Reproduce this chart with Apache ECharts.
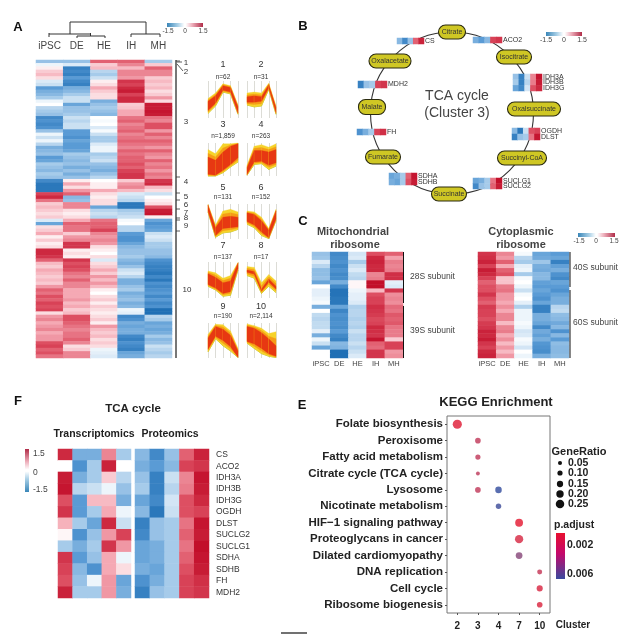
<!DOCTYPE html>
<html><head><meta charset="utf-8">
<style>html,body{margin:0;padding:0;background:#fff}#c{width:638px;height:634px;filter:blur(.35px)}</style>
<script src="https://cdn.jsdelivr.net/npm/echarts@6/dist/echarts.min.js"></script>
</head><body><div id="c"></div>
<script>
const stages=['iPSC','DE','HE','IH','MH'];
// Panel A: global heatmap columns, top to bottom
const aIPSC=[-.6,-.1,.1,.3,.4,.2,-.2,-.3,-1,-.8,-.7,-.5,-.1,0,-.4,-.5,-.6,-1.2,-1.1,-1.2,-1.1,-.6,-.1,-.3,-.1,-.4,-.8,-.7,-.6,-1,
 -.9,-.5,-.6,-.7,-.5,-.6,-1.2,-1.4,-1.4,-1.4,1.1,1.3,.8,.3,.4,.3,.2,.3,-.2,-.9,.2,.3,.5,.1,.3,.1,.2,1.3,1.3,1.2,
 .9,.4,.3,.5,.4,.3,.4,.3,.6,.9,.8,1,.9,1.1,1,1.1,.2,.6,.7,.5,.6,.7,.5,.6,.6,1,1.1,.9,1,.8];
const aDE=[-.6,-.2,-1.3,-1.2,-1.3,-1,-1.2,-1.3,-.8,-.7,-.5,-.3,-.3,-.9,-.6,-.6,-.5,-.3,-.4,-.3,-.3,-1,-1,-1.1,-.9,-1,-1,-.9,-.5,-.6,
 -.7,-.6,-.8,-.6,-.8,-.6,.1,.5,.2,.6,.9,-.7,-.6,.7,.7,.2,.1,.2,.5,.9,.8,.8,.3,.6,.7,1.2,1.2,.1,.2,.1,
 1.2,1,1.1,1,.8,.7,.9,.7,.7,.5,.5,.5,.6,.4,.5,.3,.4,1,1,.9,.8,.7,.8,.8,.9,.7,.2,.3,.7,.7];
const aHE=[.9,.3,.4,-.4,-.5,-.3,.1,.2,.5,.3,.2,.2,-.8,-.6,-.5,-.6,-.7,0,-.05,0,-.2,-.05,-.3,-.5,-.5,-.2,-.1,-.1,-.5,-.4,
 -.3,-.6,-.7,-.8,-.6,-.4,0,.1,.1,.5,.2,.1,.2,.2,-.9,-.4,-.3,-.4,.8,.9,.9,1.1,.7,.6,.7,.6,.2,.1,0,.2,
 -.2,.2,.3,.5,.3,.6,.4,.6,.4,.1,0,.2,.3,.1,.3,.2,.1,.2,.3,.1,.6,.4,.3,.4,.2,.3,.2,-.1,-.15,-.2];
const aIH=[.9,.7,.4,.7,.7,.6,1.2,1.1,1.3,1.4,1.1,1.3,1.3,.3,.35,.5,.5,.8,.9,.7,.8,.9,.7,.8,.9,.8,.7,.9,.8,.9,
 .9,1,.9,1.1,1.2,1.2,.3,.6,.7,.4,-.2,-.3,-.4,-1.4,-1.4,-.5,-.4,-.3,-.05,0,-.4,-.4,-1,-1.1,-1.1,-.9,-.7,-.6,-.6,-.5,
 -.7,-.8,-.6,-.3,-.2,-.4,-.8,-.8,-.6,-.5,-.8,-.7,-.6,-.8,-.7,-.1,-.15,-1.2,-1.1,-.8,-.9,-.8,-.8,-1.2,-1.3,-1.1,-1.2,-1.3,-.9,-.8];
const aMH=[-.5,.3,.9,.7,.7,.3,.4,.3,.4,.2,.3,.6,.2,1.4,1.4,1.45,1.4,.8,.7,1,1,.6,.9,.7,.9,.8,.6,.9,.7,.6,
 .9,.7,.8,.6,.8,.7,1.2,1.3,.4,.2,-.3,0,.1,.2,1,1.4,1.45,.1,-.9,-1.1,-1,-.9,-.3,-.2,-.3,-.5,-.5,-.6,-.6,-.7,
 -1.1,-1.2,-1.3,-1.3,-1.4,-1.2,-1.4,-1.1,-1.2,-1.1,-1,-1.2,-1,-1.2,-1.1,-1.5,-1.5,-.4,-.5,-.9,-.8,-.9,-.8,-.5,-.7,-.6,-.3,-.4,-.5,-.4];
// Panel A: cluster profiles — outer low, inner low, inner high, outer high
const clusterNames=['1','2','3','4','5','6','7','8','9','10'];
const clusterCounts=['n=62','n=31','n=1,859','n=263','n=131','n=152','n=137','n=17','n=190','n=2,114'];
const outerLow=[[-1.5,-.7,.8,.6,-1.6],[-.6,-.8,-.7,1.1,-1.6],[-2,-2,-1.6,-.9,-.3],[-1.9,-.6,-.5,-1.2,-.8],[1.1,-1.8,-1.3,-1.2,-.9],[-.3,-.7,-1.6,-1.95,.1],[-.7,-1.1,-1.8,-1.7,1.1],[.5,.2,-1.5,-.7,-1.4],[-1.3,.2,-.6,-1.2,-1.95],[-.3,-.9,-1.5,-1.8,-1.95]];
const innerLow=[[-1.2,-.4,1,.8,-1.45],[-.3,-.3,-.2,1.25,-1.4],[-1.8,-1.9,-1.3,-.6,.2],[-1.8,-.3,-.2,-.7,-.4],[1.2,-1.6,-.8,-.7,-.6],[0,-.4,-1.2,-1.85,.3],[-.5,-.9,-1.5,-1.3,1.3],[.85,.65,-1.25,-.25,-1],[-1,.5,0,-.7,-1.9],[-.1,-.4,-.9,-1.5,-1.8]];
const innerHigh=[[-.2,.4,1.5,1.3,-.8],[.3,.4,.3,1.6,-.9],[.3,-.1,.9,1.6,1.9],[-1,1.1,1.1,.9,1.2],[1.85,-.7,.5,.6,.5],[1,.8,.1,-1,1.2],[.7,.3,-.3,-.1,1.85],[1.1,.95,-1,.1,-.7],[.3,1.6,1.3,.6,-1.2],[1.6,1.4,.9,.2,-.6]];
const outerHigh=[[.1,.7,1.7,1.5,-.6],[.7,.8,.7,1.75,-.7],[1.2,.7,1.9,1.9,2],[-.7,1.6,1.8,1.5,1.9],[1.95,-.4,1.2,1.4,1.1],[1.2,1.1,.5,-.8,1.4],[1,.8,.2,.5,1.95],[1.5,1.4,-.3,.6,-.1],[.7,1.85,1.8,1.1,-.9],[1.9,1.7,1.4,.8,1]];
// Panel C
const mitoIPSC=[-.6,-.55,-.2,-.4,-.65,-.65,-.6,-.9,0,-.15,-.15,-.1,-.05,-.8,0,-.35,-.4,-.35,-.35,-.15,-.8,-.1,-.3,-.9,0,0];
const mitoDE=[-1.2,-1.15,-1.1,-1.2,-1.1,-1.2,-1.15,-.8,-1.2,-1.45,-1.45,-1.4,-1.4,-.9,-1.25,-1.1,-1.15,-1.1,-1.15,-1,-1.2,-1.3,-.7,-.75,-1.5,-1.5];
const mitoHE=[-.25,-.2,-.5,-.3,-.2,-.35,-.4,.05,.05,-.1,-.15,-.15,-.2,-.45,-.4,-.4,-.45,-.4,-.45,-.3,-.4,-.4,-.3,-.4,-.3,-.2];
const mitoIH=[1,1.3,1.35,1.3,1.3,.7,.75,1.5,1.5,.4,1,1.1,1.1,1.25,1.2,1.15,1.05,1.1,1.3,1.25,1.2,1.45,.9,.85,1.2,1.2];
const mitoMH=[.9,.55,.75,.7,.75,1.25,1.25,-.15,-.2,1.2,.65,.7,.65,.85,.8,.95,.9,.95,.8,.75,.75,.3,1.1,1.1,.6,.65];
const cytoIPSC=[1.2,1.25,1.35,1.1,1.4,1.3,1.1,.9,1,1,1.2,1,.9,1.15,1.1,1.1,1,1.15,1.2,1.35,1.3,1.4,1.2,1.1,1.3,1.35];
const cytoDE=[.7,.6,.9,.5,.9,1,.35,.35,.75,.8,.6,.6,.5,.65,.5,.7,.7,.4,.7,.75,.5,.65,.4,.6,.4,.6];
const cytoHE=[-.05,-.4,-.5,-.15,-.1,-.5,-.05,0,-.1,-.3,-.05,0,-.15,-.45,-.1,-.1,-.1,-.05,-.1,-.25,-.2,-.05,-.1,-.25,0,-.1];
const cytoIH=[-.9,-.85,-.55,-.8,-.85,-.7,-.7,-.95,-1,-.9,-1,-1.1,-.9,-1.3,-1.3,-.8,-.8,-.9,-1.2,-.85,-.95,-.8,-1.05,-1.1,-1.15,-.8];
const cytoMH=[-1,-.9,-1.3,-.95,-.8,-1.1,-1.2,-.9,-1,-1.1,-.9,-.8,-.8,-.4,-.35,-.65,-.7,-.85,-.7,-1.1,-.7,-1,-.65,-.7,-.7,-.65];
// Panel F
const genes=['CS','ACO2','IDH3A','IDH3B','IDH3G','OGDH','DLST','SUCLG2','SUCLG1','SDHA','SDHB','FH','MDH2'];
const transcriptomics=[[1.3,-.8,-.8,.7,-.5],[0,-1.1,-.5,1.35,0],[1.4,-.8,-.5,.3,-.4],[1.45,-.4,-.3,-.1,-.6],[1,-1,.4,.4,-.8],[1.2,-1,-.5,.5,-.1],[.45,-.5,-.9,1.3,-.3],[.05,-1.1,-.6,.6,1.1],[-.5,-.8,-.5,1.2,.6],[1.2,-1,-.6,.5,-.1],[1.1,-.7,-1.1,.5,.2],[1,-.6,-.1,.6,-.9],[1.35,-.5,-.5,.6,-.8]];
const proteomics=[[-.7,-1.2,-.6,.9,1.35],[-.8,-1,-.7,1.1,1.2],[-.6,-1.3,-.3,.7,1.45],[-.5,-1.3,-.4,.75,1.4],[-.9,-1.2,-.25,1,1.3],[-.7,-1.4,-.3,1,1.1],[-1.3,-.6,-.5,.8,1.45],[-1.2,-.6,-.5,.9,1.4],[-.9,-.8,-.5,.8,1.5],[-.9,-.8,-.5,.9,1.45],[-.8,-.9,-.5,1,1.4],[-1.1,-.8,-.5,1.1,1.25],[-1.3,-.6,-.5,1.1,1.2]];
// Panel E
const pathways=['Folate biosynthesis','Peroxisome','Fatty acid metabolism','Citrate cycle (TCA cycle)','Lysosome','Nicotinate metabolism','HIF−1 signaling pathway','Proteoglycans in cancer','Dilated cardiomyopathy','DNA replication','Cell cycle','Ribosome biogenesis'];
const enrichClusters=['2','3','4','7','10'];
const dotPathway=[0,1,2,3,4,4,5,6,7,8,9,10,11];
const dotCluster=[0,1,1,1,1,2,2,3,3,3,4,4,4];
const dotRatio=[.28,.12,.1,.04,.12,.16,.11,.22,.24,.17,.09,.14,.12];
const dotPadj=[.0009,.003,.003,.0032,.003,.0065,.0063,.0006,.0016,.005,.0028,.0015,.0014];
const ratioTicks=[.05,.1,.15,.2,.25];

const FONT='"Liberation Sans",Arial,sans-serif';
const heatColors=['#1f6fb5','#5a9bd5','#a6cbea','#ffffff','#f5a9b4','#dd4f62','#c20f2a'];
const legendStops=[[0,'#3a86b8'],[.3,'#a8cfe6'],[.48,'#ffffff'],[.52,'#ffffff'],[.7,'#eeb0bc'],[1,'#b02c48']];
const grids=[],xAxes=[],yAxes=[],series=[],heatIdx=[],G=[];
function heat(box,rows,labels,opt){
  opt=opt||{};
  const g=grids.length;grids.push(Object.assign({},box));
  const xa={type:'category',gridIndex:g,data:stages,show:!!opt.x,position:opt.xTop?'top':'bottom',
    axisLine:{show:false},axisTick:{show:false},axisLabel:{fontFamily:FONT,fontSize:opt.xSize||7.5,color:'#444',margin:opt.xMargin||3,interval:0}};
  xAxes.push(xa);
  const ya={type:'category',gridIndex:g,inverse:true,data:labels||rows.map((_,i)=>'r'+i),show:!!labels,position:'right',
    axisLine:{show:false},axisTick:{show:false},axisLabel:{fontFamily:FONT,fontSize:opt.ySize||7,color:opt.yColor||'#333',margin:opt.yMargin||2,interval:0}};
  yAxes.push(ya);
  const data=[];
  rows.forEach((r,y)=>r.forEach((v,x)=>data.push([x,y,v])));
  heatIdx.push(series.length);
  series.push({type:'heatmap',xAxisIndex:g,yAxisIndex:g,data,z:3,progressive:0,silent:true});
}
const byCol=(...cols)=>cols[0].map((_,i)=>cols.map(c=>c[i]));
const gene=g=>proteomics[genes.indexOf(g)];

// A heatmap
heat({left:36,top:60,width:136,height:298},byCol(aIPSC,aDE,aHE,aIH,aMH),null,{x:true,xTop:true,xSize:10,xMargin:9});
// A mini profiles
const miniCols=[[208,30],[247,29]],miniRows=[[81,37],[143,33],[204,35],[262,36],[323,35]];
clusterNames.forEach((n,k)=>{
  const c=miniCols[k%2],r=miniRows[Math.floor(k/2)];
  const g=grids.length;grids.push({left:c[0],width:c[1],top:r[0],height:r[1]});
  xAxes.push({type:'value',gridIndex:g,min:0,max:4,interval:1,axisLine:{show:false},axisTick:{show:false},axisLabel:{show:false},splitLine:{show:true,lineStyle:{color:'#dcdcd6',width:1}}});
  yAxes.push({type:'value',gridIndex:g,min:-2,max:2,show:false,splitLine:{show:false}});
  const data=[0,1,2,3].map(i=>[i,outerLow[k][i],innerLow[k][i],innerHigh[k][i],outerHigh[k][i],outerLow[k][i+1],innerLow[k][i+1],innerHigh[k][i+1],outerHigh[k][i+1]]);
  series.push({type:'custom',xAxisIndex:g,yAxisIndex:g,silent:true,clip:false,data,encode:{x:0,y:1},z:3,renderItem(p,api){
    const i=api.value(0);
    const P=(xv,yv)=>api.coord([xv,yv]);
    const poly=(l0,h0,l1,h1,fill)=>({type:'polygon',shape:{points:[P(i,l0),P(i+1,l1),P(i+1,h1),P(i,h0)]},style:{fill,stroke:fill,lineWidth:.3}});
    const [ol0,il0,ih0,oh0,ol1,il1,ih1,oh1]=[1,2,3,4,5,6,7,8].map(d=>api.value(d));
    return {type:'group',children:[
      {type:'line',shape:{x1:P(i,ol0)[0],y1:P(i,ol0)[1],x2:P(i+1,ol1)[0],y2:P(i+1,ol1)[1]},style:{stroke:'#a5b92a',lineWidth:.8}},
      poly(ol0,oh0,ol1,oh1,'#f6d32a'),
      poly((ol0+il0)/2,(oh0+ih0)/2,(ol1+il1)/2,(oh1+ih1)/2,'#f59c16'),
      poly(il0,ih0,il1,ih1,'#e73812')
    ]};
  }});
});
// B gene blocks
const bBlocks=[
 [['CS'],397,38,27,6],[['ACO2'],473,37,29,6],[['IDH3A','IDH3B','IDH3G'],513,74,29,17],
 [['OGDH','DLST'],512,128,28,12],[['SUCLG1','SUCLG2'],473,178,29,11],[['SDHA','SDHB'],389,173,28,12],
 [['FH'],357,129,29,6],[['MDH2'],358,81,29,7]];
bBlocks.forEach(b=>heat({left:b[1],top:b[2],width:b[3],height:b[4]},b[0].map(gene),b[0],{ySize:7,yColor:'#333',yMargin:1}));
// C
heat({left:312,top:252,width:91,height:106},byCol(mitoIPSC,mitoDE,mitoHE,mitoIH,mitoMH),null,{x:true,xSize:7.5,xMargin:2});
heat({left:478,top:252,width:91,height:106},byCol(cytoIPSC,cytoDE,cytoHE,cytoIH,cytoMH),null,{x:true,xSize:7.5,xMargin:2});
// F
heat({left:58,top:449,width:73,height:149},transcriptomics,null);
heat({left:135,top:449,width:74,height:149},proteomics,genes,{ySize:8.5,yColor:'#333',yMargin:7});
// E
const gE=grids.length;
grids.push({left:447,top:416,width:103,height:197,show:true,borderColor:'#777',borderWidth:1,backgroundColor:'#fff'});
xAxes.push({type:'category',gridIndex:gE,data:enrichClusters,axisLine:{show:false},axisTick:{show:true,alignWithLabel:true,length:2,lineStyle:{color:'#555'}},
  axisLabel:{fontFamily:FONT,fontWeight:'bold',fontSize:10,color:'#222',margin:8,interval:0},splitLine:{show:false}});
yAxes.push({type:'category',gridIndex:gE,inverse:true,data:pathways,axisLine:{show:false},axisTick:{show:true,alignWithLabel:true,length:2,lineStyle:{color:'#555'}},
  axisLabel:{fontFamily:FONT,fontWeight:'bold',fontSize:11.5,color:'#222',margin:4,interval:0},splitLine:{show:false}});
const scatterIdx=series.length;
const sz=r=>3+r*22;
series.push({type:'scatter',xAxisIndex:gE,yAxisIndex:gE,silent:true,z:4,
  data:dotPathway.map((p,i)=>[dotCluster[i],p,dotPadj[i],dotRatio[i]]),
  encode:{x:0,y:1},symbolSize:v=>sz(v[3])});

// Decorations
const txt=(x,y,s,size,o)=>G.push({type:'text',x,y,z:20,silent:true,style:Object.assign({text:s,fontFamily:FONT,fontSize:size,fill:'#444',align:'center',verticalAlign:'middle'},o||{})});
const seg=(x1,y1,x2,y2,stroke,w,z)=>G.push({type:'line',z:z||20,silent:true,shape:{x1,y1,x2,y2},style:{stroke:stroke||'#333',lineWidth:w||1}});
const bold=c=>({fontWeight:'bold',fill:c||'#111'});
[['A',18,27],['B',303,26],['C',303,221],['F',18,401],['E',302,405]].forEach(p=>txt(p[1],p[2],p[0],13,bold('#111')));
// dendrogram
[[70,22,146,22],[70,22,70,34],[146,22,146,34],[49,34,91,34],[49,33,49,37],[90.5,33,90.5,36],[77,36,105,36],[77,36,77,38],[105,36,105,38],[131,34,160,34],[131,34,131,37],[160,34,160,37]]
 .forEach(s=>seg(s[0],s[1],s[2],s[3],'#333',1));
// legends
function gradBar(x,y,w,h,stops,vertical){G.push({type:'rect',z:20,silent:true,shape:{x,y,width:w,height:h},style:{fill:new echarts.graphic.LinearGradient(0,vertical?1:0,vertical?0:1,0,stops.map(s=>({offset:s[0],color:s[1]})))}});}
gradBar(167,23,36,4,legendStops);[['-1.5',168],['0',185],['1.5',203]].forEach(l=>txt(l[1],31,l[0],6.5,{fill:'#444'}));
gradBar(546,32,36,4,legendStops);[['-1.5',546],['0',564],['1.5',582]].forEach(l=>txt(l[1],40,l[0],7,{fill:'#444'}));
gradBar(578,233,37,4,legendStops);[['-1.5',579],['0',596],['1.5',614]].forEach(l=>txt(l[1],241,l[0],6.5,{fill:'#444'}));
gradBar(25,449,4,43,legendStops,true);[['1.5',454],['0',473],['-1.5',490]].forEach(l=>txt(33,l[1],l[0],8.5,{align:'left',fill:'#444'}));
// A bracket
seg(176,60,176,358,'#555',1.6);
[61,177,193,200,209,218,220,231].forEach(y=>seg(176,y,180,y,'#333',.8));
seg(177,62,182,62,'#333',.8);seg(177,64,183,71,'#333',.8);
[['1',186,63],['2',186,72],['3',186,122],['4',186,182],['5',186,197],['6',186,205],['7',186,213],['8',186,218],['9',186,226],['10',187,290]].forEach(l=>txt(l[1],l[2],l[0],8,{fill:'#333'}));
clusterNames.forEach((n,k)=>{
  const xs=[223,261],ys=[[65,77],[125,136],[188,197],[246,257],[307,316]];
  const r=ys[Math.floor(k/2)];
  txt(xs[k%2],r[0],n,9,{fill:'#333'});txt(xs[k%2],r[1],clusterCounts[k],6.5,{fill:'#333'});
});
// B pathway
G.push({type:'ellipse',z:1,silent:true,shape:{cx:452,cy:113,rx:81.5,ry:81},style:{fill:'none',stroke:'#333',lineWidth:1.1}});
[['Citrate',452,32,27,14],['Isocitrate',514,57,35,14],['Oxalacetate',390,61,42,14],['Oxalsuccinate',534,109,53,14],['Malate',372,107,27,15],['Fumarate',383,157,35,14],['Succinyl-CoA',522,158,49,14],['Succinate',449,194,35,14]].forEach(n=>{
  G.push({type:'rect',z:15,silent:true,shape:{x:n[1]-n[3]/2,y:n[2]-n[4]/2,width:n[3],height:n[4],r:7},style:{fill:'#cfc724',stroke:'#2a2a10',lineWidth:1.1}});
  txt(n[1],n[2],n[0],7,{fill:'#333'});
});
txt(457,96,'TCA cycle',14,{fill:'#444'});txt(457,113,'(Cluster 3)',14,{fill:'#444'});
// C
const t11={fontWeight:600,fill:'#444'};
txt(353,232,'Mitochondrial',11,t11);txt(355,245,'ribosome',11,t11);txt(521,232,'Cytoplasmic',11,t11);txt(521,245,'ribosome',11,t11);
seg(403.5,252,403.5,303,'#111',1);seg(403.5,306,403.5,358,'#111',1);seg(570,252,570,287,'#111',1);seg(570,290,570,358,'#111',1);
[['28S subunit',410,277],['39S subunit',410,331],['40S subunit',573,268],['60S subunit',573,323]].forEach(l=>txt(l[1],l[2],l[0],8.5,{align:'left',fill:'#444'}));
// F
txt(133,409,'TCA cycle',11.5,bold('#222'));txt(94,434,'Transcriptomics',10.5,bold('#222'));txt(170,434,'Proteomics',10.5,bold('#222'));
// E
txt(496,402,'KEGG Enrichment',13,bold('#222'));
txt(573,625,'Cluster',10,{fontWeight:'bold',fill:'#222',align:'center'});
txt(579,452,'GeneRatio',11,bold('#222'));
const rowsY=[463,473,484,494,504];
ratioTicks.forEach((r,i)=>{
  G.push({type:'circle',z:20,silent:true,shape:{cx:560,cy:rowsY[i],r:sz(r)/2},style:{fill:'#111'}});
  txt(568,rowsY[i],r.toFixed(2),10.5,{align:'left',fontWeight:'bold',fill:'#222'});
});
txt(554,525,'p.adjust',10.5,{align:'left',fontWeight:'bold',fill:'#222'});
gradBar(556,533,9,46,[[0,'#3a4a9e'],[.55,'#c4086c'],[1,'#e8102f']],true);
txt(567,545,'0.002',10.5,{align:'left',fontWeight:'bold',fill:'#222'});
txt(567,574,'0.006',10.5,{align:'left',fontWeight:'bold',fill:'#222'});
seg(281,633,307,633,'#111',1.2);

const chart=echarts.init(document.getElementById('c'),null,{renderer:'canvas'});
chart.setOption({animation:false,backgroundColor:'#fff',textStyle:{fontFamily:FONT},grid:grids,xAxis:xAxes,yAxis:yAxes,series,
 visualMap:[
  {type:'continuous',show:false,seriesIndex:heatIdx,dimension:2,min:-1.5,max:1.5,inRange:{color:heatColors}},
  {type:'continuous',show:false,seriesIndex:scatterIdx,dimension:2,min:.0005,max:.0065,inRange:{color:['#e5122b','#c9304f','#a0406a','#2f4a9c']}}
 ],
 graphic:{elements:G}});
</script></body></html>
